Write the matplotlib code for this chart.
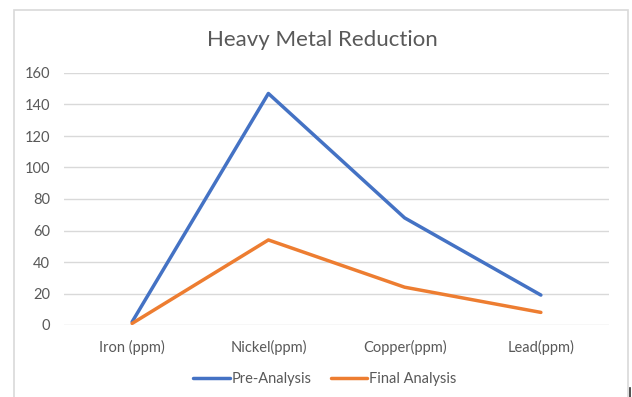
import matplotlib.pyplot as plt
from matplotlib.patches import Rectangle
from matplotlib.lines import Line2D

categories = ['Iron (ppm)', 'Nickel(ppm)', 'Copper(ppm)', 'Lead(ppm)']
pre_analysis = [2, 147, 68, 19]
final_analysis = [1, 54, 24, 8]

plt.rcParams['font.family'] = ['Lato', 'DejaVu Sans']

fig = plt.figure(figsize=(6.32, 3.97), dpi=100)
ax = fig.add_axes([64 / 632, 1 - 325 / 397, 545 / 632, 252 / 397])

x = range(len(categories))
ax.plot(x, pre_analysis, color='#4472C4', lw=2.5, label='Pre-Analysis', solid_capstyle='round')
ax.plot(x, final_analysis, color='#ED7D31', lw=2.5, label='Final Analysis', solid_capstyle='round')

ax.set_xlim(-0.5, 3.5)
ax.set_ylim(0, 160)
ax.set_yticks(range(0, 161, 20))
ax.set_xticks(list(x))
ax.set_xticklabels(categories)
ax.grid(axis='y', color='#D9D9D9', lw=1)
ax.set_axisbelow(True)
for s in ax.spines.values():
    s.set_visible(False)
ax.tick_params(length=0, labelsize=10.5, colors='#595959')
ax.tick_params(axis='y', pad=10)
ax.tick_params(axis='x', pad=11)

fig.text(322 / 632, 1 - 40 / 397, 'Heavy Metal Reduction', ha='center', va='center',
         fontsize=16, color='#595959')

fig.legend(loc='center', bbox_to_anchor=(325 / 632, 1 - 379 / 397), ncol=2, frameon=False,
           fontsize=10.5, handlelength=2.5, handletextpad=0.15, columnspacing=1.3,
           labelcolor='#595959')

# chart border
fig.patches.append(Rectangle((14 / 632, -0.05), 614 / 632, 1.05 - 10 / 397, transform=fig.transFigure,
                             fill=False, edgecolor='#D9D9D9', lw=1.2))
fig.add_artist(Line2D([629.5 / 632, 629.5 / 632], [0, 9 / 397], color='#333333', lw=1.2))

plt.savefig('out.png', dpi=100)
